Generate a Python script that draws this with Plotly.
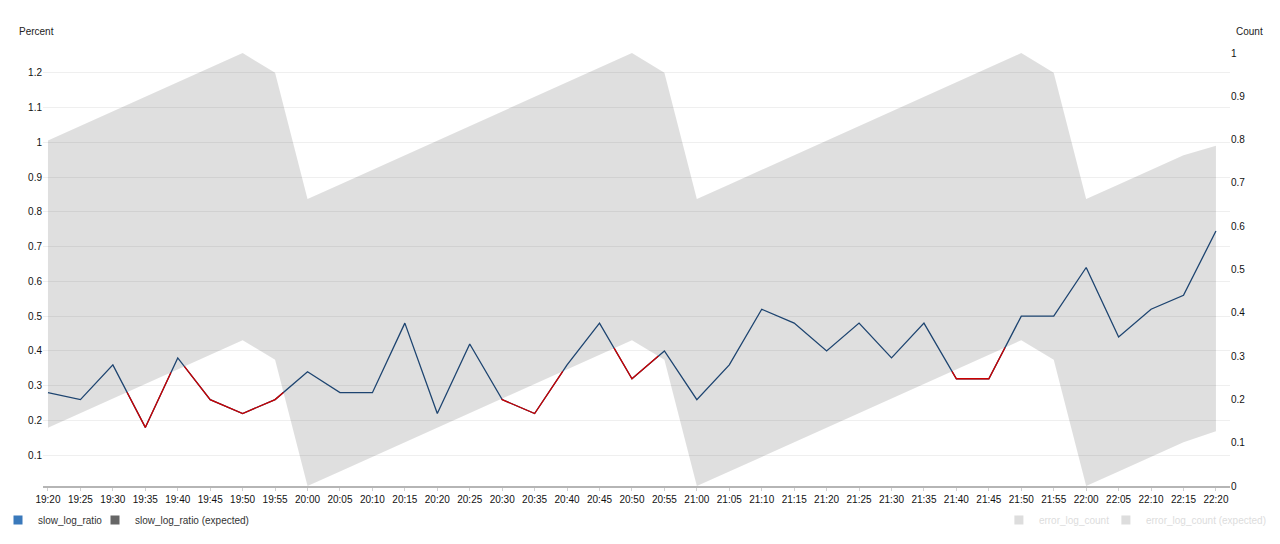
import pandas as pd
import plotly.graph_objects as go

# 5-minute buckets shown on the x axis
times = [
    "19:20", "19:25", "19:30", "19:35", "19:40", "19:45", "19:50", "19:55",
    "20:00", "20:05", "20:10", "20:15", "20:20", "20:25", "20:30", "20:35",
    "20:40", "20:45", "20:50", "20:55", "21:00", "21:05", "21:10", "21:15",
    "21:20", "21:25", "21:30", "21:35", "21:40", "21:45", "21:50", "21:55",
    "22:00", "22:05", "22:10", "22:15", "22:20",
]

slow_log_ratio = [
    0.28, 0.26, 0.36, 0.18, 0.38, 0.26, 0.22, 0.26,
    0.34, 0.28, 0.28, 0.48, 0.22, 0.42, 0.26, 0.22,
    0.36, 0.48, 0.32, 0.40, 0.26, 0.36, 0.52, 0.48,
    0.40, 0.48, 0.38, 0.48, 0.32, 0.32, 0.50, 0.50,
    0.64, 0.44, 0.52, 0.56, 0.745,
]

# expected band (upper / lower bound) for slow_log_ratio
expected_upper = [
    1.005, 1.047, 1.089, 1.131, 1.173, 1.215, 1.257, 1.200,
    0.837, 0.879, 0.921, 0.963, 1.005, 1.047, 1.089, 1.131,
    1.173, 1.215, 1.257, 1.200, 0.837, 0.879, 0.921, 0.963,
    1.005, 1.047, 1.089, 1.131, 1.173, 1.215, 1.257, 1.200,
    0.837, 0.879, 0.921, 0.963, 0.990,
]
expected_lower = [
    0.179, 0.221, 0.263, 0.305, 0.347, 0.389, 0.431, 0.375,
    0.0115, 0.053, 0.095, 0.137, 0.179, 0.221, 0.263, 0.305,
    0.347, 0.389, 0.431, 0.375, 0.0115, 0.053, 0.095, 0.137,
    0.179, 0.221, 0.263, 0.305, 0.347, 0.389, 0.431, 0.375,
    0.0115, 0.053, 0.095, 0.137, 0.169,
]

FONT = "Liberation Sans, Arial, sans-serif"
LINE_BLUE = "#1d4470"
ANOMALY_RED = "#cc0000"

x = [pd.Timestamp("2024-01-01 " + t) for t in times]


def below_bound(xs, ys, bound):
    """Pieces of the polyline that lie under the bound, split at crossings."""
    out_x, out_y = [], []
    for i in range(len(ys)):
        d = ys[i] - bound[i]
        if i > 0:
            dp = ys[i - 1] - bound[i - 1]
            if (dp < 0) != (d < 0):
                f = dp / (dp - d)
                out_x.append(xs[i - 1] + (xs[i] - xs[i - 1]) * f)
                out_y.append(ys[i - 1] + (ys[i] - ys[i - 1]) * f)
                if d >= 0:
                    out_x.append(None)
                    out_y.append(None)
        if d < 0:
            out_x.append(xs[i])
            out_y.append(ys[i])
    return out_x, out_y


red_x, red_y = below_bound(x, slow_log_ratio, expected_lower)

fig = go.Figure()

# expected band
fig.add_trace(go.Scatter(
    x=x, y=expected_lower, mode="lines", line=dict(width=0),
    legendgroup="expected", showlegend=False, hoverinfo="skip",
))
fig.add_trace(go.Scatter(
    x=x, y=expected_upper, mode="lines", line=dict(width=0),
    fill="tonexty", fillcolor="rgba(0,0,0,0.125)",
    legendgroup="expected", showlegend=False, hoverinfo="skip",
))

# actual value, red where it drops out of the band
fig.add_trace(go.Scatter(
    x=x, y=slow_log_ratio, mode="lines",
    line=dict(color=LINE_BLUE, width=1.3),
    legendgroup="actual", showlegend=False,
))
fig.add_trace(go.Scatter(
    x=red_x, y=red_y, mode="lines",
    line=dict(color=ANOMALY_RED, width=1.3),
    legendgroup="actual", showlegend=False, hoverinfo="skip",
))

# legend entries (square swatches)
legend_items = [
    ("slow_log_ratio", "#3a79bb", "actual", 62),
    ("slow_log_ratio (expected)", "#666666", "expected", None),
]
for name, color, group, lw in legend_items:
    fig.add_trace(go.Scatter(
        x=[None], y=[None], mode="markers", name=name, legendgroup=group,
        legend="legend", legendwidth=lw,
        marker=dict(symbol="square", size=9, color=color),
    ))

# hidden count series on the right axis
for name, lw in [("error_log_count", 62), ("error_log_count (expected)", None)]:
    fig.add_trace(go.Scatter(
        x=[None], y=[None], mode="markers", name=name, yaxis="y2",
        legend="legend2", visible="legendonly", legendwidth=lw,
        marker=dict(symbol="square", size=9, color="#bcbcbc"),
    ))

fig.update_layout(
    # page body has an 8px margin, so the figure is 8px smaller each way
    width=1272,
    height=536,
    margin=dict(l=35, r=50, t=45, b=58, autoexpand=False),
    plot_bgcolor="white",
    paper_bgcolor="white",
    font=dict(family=FONT, size=10, color="#222222"),
    hovermode="x",
    xaxis=dict(
        type="date",
        range=[x[0] - pd.Timedelta(seconds=46), x[-1] + pd.Timedelta(seconds=130)],
        tick0=x[0],
        dtick=300000,
        tickformat="%H:%M",
        showgrid=False,
        showline=True,
        linecolor="#b5b5b5",
        linewidth=1.5,
        ticks="outside",
        ticklen=3,
        tickcolor="#d0d0d0",
        tickfont=dict(size=10, color="#111111"),
        zeroline=False,
    ),
    yaxis=dict(
        range=[min(expected_lower), max(expected_upper)],
        tick0=0,
        dtick=0.1,
        showgrid=True,
        gridcolor="#efefef",
        zeroline=False,
        showline=False,
        tickfont=dict(size=10, color="#111111"),
    ),
    yaxis2=dict(
        overlaying="y",
        side="right",
        range=[0, 1],
        tick0=0,
        dtick=0.1,
        showgrid=False,
        zeroline=False,
        showline=False,
        tickfont=dict(size=10, color="#111111"),
    ),
    legend=dict(
        orientation="h",
        xref="container", yref="container",
        x=0, xanchor="left",
        y=0.0448, yanchor="middle",
        itemwidth=30,
        indentation=-10,
        font=dict(size=10, color="#333333"),
        bgcolor="rgba(0,0,0,0)",
    ),
    legend2=dict(
        orientation="h",
        xref="container", yref="container",
        x=0.779, xanchor="left",
        y=0.0448, yanchor="middle",
        itemwidth=30,
        font=dict(size=10, color="#bbbbbb"),
        bgcolor="rgba(0,0,0,0)",
    ),
    annotations=[
        dict(text="Percent", xref="paper", yref="paper", x=-0.0219, y=1.0485,
             xanchor="left", yanchor="middle", showarrow=False,
             font=dict(size=10, color="#222222")),
        dict(text="Count", xref="paper", yref="paper", x=1.0034, y=1.0485,
             xanchor="left", yanchor="middle", showarrow=False,
             font=dict(size=10, color="#222222")),
    ],
)

fig.write_html("out.html")
